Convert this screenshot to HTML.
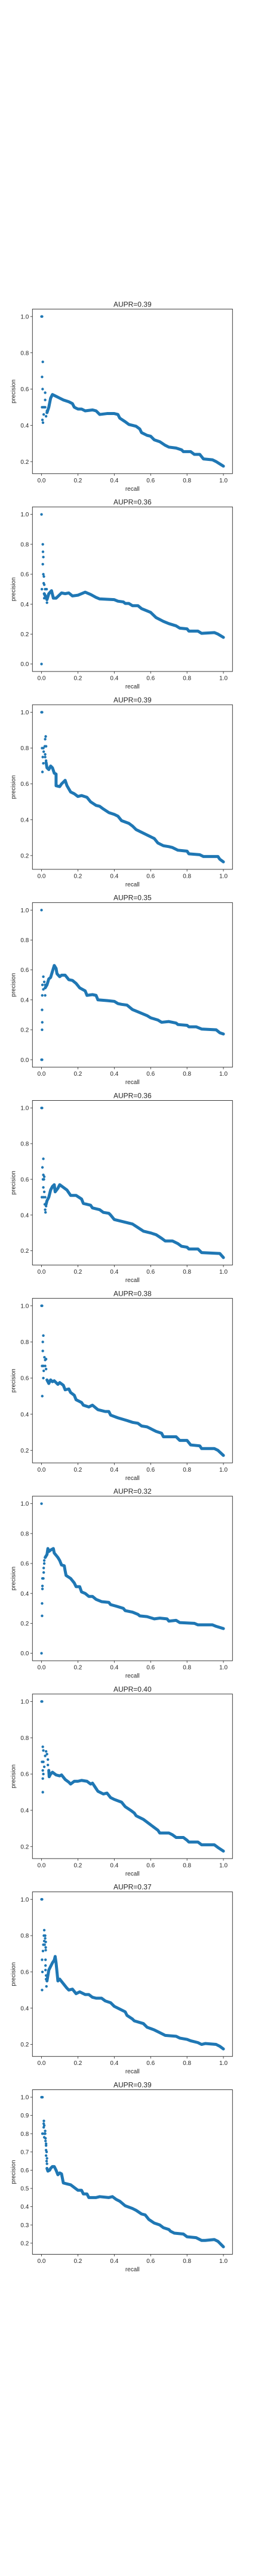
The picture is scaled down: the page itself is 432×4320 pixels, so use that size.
<!DOCTYPE html>
<html><head><meta charset="utf-8"><style>
html,body{margin:0;padding:0;background:#fff;width:432px;height:4320px;overflow:hidden}
svg{display:block}
text{font-family:"Liberation Sans","DejaVu Sans",sans-serif;fill:#262626}
</style></head><body>
<svg id="fig" width="432" height="4320" viewBox="0 0 432 4320"></svg>
<script>
const titles=["AUPR=0.39","AUPR=0.36","AUPR=0.39","AUPR=0.35","AUPR=0.36","AUPR=0.38","AUPR=0.32","AUPR=0.40","AUPR=0.37","AUPR=0.39"];
const xTicks=[0,0.2,0.4,0.6,0.8,1.0];
const yTickStep=[0.2,0.2,0.2,0.2,0.2,0.2,0.2,0.2,0.2,0.1];
const curveR=[
[0.03,0.04,0.05,0.06,0.08,0.1,0.12,0.15,0.17,0.18,0.2,0.22,0.24,0.28,0.3,0.32,0.36,0.4,0.42,0.43,0.46,0.48,0.52,0.54,0.55,0.58,0.6,0.62,0.65,0.68,0.7,0.74,0.77,0.78,0.82,0.84,0.87,0.89,0.94,0.96,1.0],
[0.015,0.03,0.04,0.055,0.065,0.08,0.11,0.13,0.15,0.17,0.2,0.24,0.27,0.3,0.32,0.4,0.42,0.45,0.46,0.48,0.5,0.53,0.55,0.6,0.63,0.67,0.7,0.74,0.76,0.8,0.81,0.86,0.88,0.95,0.97,1.0],
[0.025,0.03,0.04,0.05,0.06,0.07,0.08,0.08,0.1,0.11,0.13,0.14,0.16,0.18,0.2,0.22,0.25,0.27,0.3,0.32,0.34,0.37,0.4,0.42,0.44,0.48,0.5,0.52,0.55,0.6,0.62,0.64,0.67,0.7,0.72,0.75,0.8,0.81,0.87,0.89,0.97,0.98,1.0],
[0.02,0.03,0.04,0.05,0.06,0.07,0.08,0.085,0.1,0.11,0.13,0.15,0.17,0.19,0.21,0.24,0.25,0.28,0.3,0.31,0.36,0.4,0.42,0.44,0.47,0.5,0.53,0.58,0.6,0.64,0.66,0.7,0.74,0.75,0.8,0.81,0.85,0.88,0.96,0.98,1.0],
[0.025,0.03,0.04,0.05,0.06,0.07,0.075,0.09,0.1,0.12,0.14,0.16,0.19,0.22,0.23,0.27,0.28,0.32,0.34,0.37,0.38,0.4,0.44,0.46,0.5,0.53,0.56,0.6,0.63,0.66,0.68,0.72,0.75,0.77,0.8,0.81,0.86,0.88,0.98,1.0],
[0.03,0.04,0.05,0.06,0.07,0.09,0.1,0.12,0.13,0.15,0.16,0.18,0.19,0.22,0.23,0.26,0.28,0.31,0.35,0.37,0.38,0.42,0.47,0.5,0.53,0.55,0.58,0.6,0.63,0.66,0.67,0.7,0.74,0.76,0.8,0.82,0.87,0.88,0.95,0.97,1.0],
[0.02,0.03,0.035,0.04,0.05,0.065,0.07,0.09,0.1,0.11,0.125,0.13,0.135,0.16,0.18,0.19,0.21,0.22,0.24,0.26,0.28,0.3,0.33,0.37,0.38,0.41,0.45,0.46,0.5,0.53,0.54,0.58,0.62,0.65,0.69,0.7,0.74,0.76,0.84,0.86,0.94,0.96,1.0],
[0.04,0.042,0.05,0.06,0.08,0.1,0.11,0.13,0.15,0.16,0.18,0.2,0.22,0.25,0.27,0.28,0.3,0.31,0.34,0.36,0.38,0.4,0.44,0.46,0.49,0.51,0.52,0.56,0.6,0.62,0.64,0.65,0.7,0.72,0.74,0.78,0.8,0.81,0.86,0.88,0.95,0.97,1.0],
[0.03,0.035,0.04,0.05,0.06,0.07,0.075,0.08,0.085,0.09,0.1,0.12,0.14,0.15,0.17,0.19,0.21,0.24,0.26,0.28,0.3,0.33,0.35,0.38,0.4,0.43,0.46,0.47,0.5,0.51,0.56,0.58,0.62,0.65,0.68,0.74,0.76,0.8,0.82,0.86,0.88,0.9,0.96,0.98,1.0],
[0.03,0.035,0.045,0.05,0.06,0.07,0.08,0.09,0.1,0.11,0.12,0.14,0.16,0.18,0.2,0.22,0.23,0.25,0.26,0.3,0.32,0.37,0.39,0.41,0.43,0.46,0.5,0.52,0.55,0.57,0.59,0.62,0.65,0.67,0.7,0.71,0.73,0.78,0.8,0.85,0.88,0.9,0.95,0.97,1.0]
];
const curveP=[
[0.47,0.50,0.55,0.57,0.56,0.55,0.54,0.53,0.52,0.50,0.49,0.49,0.48,0.485,0.48,0.46,0.465,0.465,0.46,0.44,0.42,0.405,0.395,0.38,0.36,0.345,0.34,0.32,0.31,0.29,0.28,0.275,0.265,0.255,0.255,0.24,0.24,0.215,0.21,0.2,0.175],
[0.47,0.43,0.47,0.49,0.44,0.44,0.475,0.47,0.475,0.455,0.46,0.48,0.465,0.445,0.435,0.43,0.42,0.415,0.405,0.405,0.39,0.39,0.37,0.345,0.31,0.285,0.27,0.255,0.24,0.235,0.22,0.22,0.205,0.21,0.2,0.178],
[0.72,0.69,0.68,0.70,0.69,0.66,0.655,0.59,0.585,0.60,0.62,0.59,0.555,0.545,0.53,0.535,0.525,0.5,0.48,0.475,0.46,0.44,0.43,0.42,0.395,0.38,0.365,0.345,0.33,0.305,0.295,0.27,0.255,0.25,0.245,0.23,0.225,0.21,0.205,0.195,0.195,0.18,0.165],
[0.48,0.50,0.54,0.55,0.59,0.63,0.61,0.575,0.555,0.565,0.565,0.535,0.53,0.51,0.48,0.46,0.43,0.435,0.43,0.40,0.395,0.39,0.375,0.37,0.365,0.335,0.32,0.295,0.28,0.265,0.25,0.255,0.245,0.235,0.23,0.22,0.22,0.205,0.2,0.18,0.172],
[0.46,0.48,0.5,0.54,0.56,0.57,0.53,0.55,0.57,0.555,0.54,0.51,0.51,0.49,0.465,0.455,0.44,0.43,0.415,0.41,0.4,0.375,0.365,0.36,0.35,0.33,0.31,0.3,0.29,0.27,0.255,0.255,0.24,0.225,0.22,0.21,0.21,0.19,0.185,0.162],
[0.59,0.57,0.59,0.58,0.585,0.565,0.575,0.56,0.535,0.54,0.52,0.505,0.48,0.465,0.45,0.44,0.45,0.425,0.415,0.415,0.395,0.38,0.365,0.355,0.35,0.335,0.33,0.32,0.305,0.295,0.275,0.275,0.275,0.255,0.255,0.23,0.225,0.21,0.21,0.2,0.172],
[0.64,0.66,0.7,0.68,0.69,0.70,0.67,0.64,0.62,0.59,0.585,0.55,0.52,0.5,0.47,0.445,0.445,0.41,0.4,0.38,0.38,0.36,0.345,0.34,0.325,0.315,0.3,0.285,0.275,0.26,0.25,0.245,0.23,0.235,0.23,0.215,0.22,0.205,0.2,0.19,0.19,0.18,0.165],
[0.62,0.585,0.6,0.61,0.595,0.59,0.595,0.57,0.555,0.545,0.56,0.56,0.565,0.56,0.545,0.55,0.52,0.505,0.49,0.495,0.47,0.46,0.445,0.42,0.4,0.385,0.37,0.35,0.32,0.305,0.29,0.275,0.275,0.265,0.25,0.25,0.235,0.225,0.225,0.21,0.21,0.195,0.175],
[0.55,0.58,0.61,0.63,0.65,0.665,0.685,0.65,0.6,0.55,0.56,0.535,0.51,0.5,0.505,0.48,0.49,0.475,0.475,0.46,0.455,0.455,0.44,0.43,0.41,0.395,0.38,0.36,0.34,0.33,0.315,0.295,0.28,0.265,0.25,0.245,0.235,0.228,0.22,0.21,0.2,0.205,0.2,0.19,0.175],
[0.61,0.595,0.6,0.61,0.62,0.62,0.6,0.575,0.585,0.58,0.53,0.525,0.52,0.505,0.49,0.49,0.47,0.47,0.45,0.45,0.455,0.45,0.455,0.44,0.43,0.405,0.39,0.38,0.36,0.355,0.33,0.31,0.3,0.285,0.275,0.265,0.255,0.25,0.235,0.23,0.215,0.215,0.22,0.21,0.18]
];
const dotR=[
[0,0.003,0.007,0.003,0.006,0.003,0.01,0.02,0.005,0.008,0.012,0.02,0.02,0.025,0.03,0.015],
[0,0.007,0.008,0.01,0.007,0.01,0.013,0.012,0.015,0.002,0.02,0.028,0,0.015,0.03,0.02],
[0,0.003,0.005,0.003,0.01,0.007,0.01,0.012,0.02,0.018,0.02,0.023,0.025,0.02,0.025],
[0,0.003,0,0.003,0.004,0.003,0.004,0.005,0.01,0.01,0.015,0.02,0.02],
[0,0.003,0.01,0.005,0.01,0.015,0.008,0.013,0.01,0.015,0.002,0.01,0.02,0.018,0.02,0.022,0.025],
[0,0.003,0.01,0.007,0.007,0.016,0.003,0.01,0.02,0.012,0.02,0.025,0.01,0.004,0.025],
[0,0,0.003,0.003,0.005,0.005,0.005,0.01,0.012,0.012,0.015,0.015],
[0,0.003,0.007,0.01,0.003,0.01,0.015,0.007,0.01,0.007,0.007,0.02,0.025,0.03,0.035,0.035],
[0,0.003,0.015,0.013,0.02,0.02,0.015,0.023,0.01,0.017,0.023,0.023,0.008,0.003,0.022,0.022,0.022,0.005,0.025,0.025,0.003,0.027],
[0,0.005,0.013,0.012,0.015,0.012,0.005,0.015,0.02,0.02,0.015,0.022,0.022,0.025,0.025,0.025,0.028,0.025,0.03,0.028,0.03]
];
const dotP=[
[1.0,1.0,0.75,0.667,0.6,0.5,0.5,0.5,0.43,0.415,0.46,0.58,0.54,0.45,0.48,0.5],
[1.0,0.8,0.75,0.715,0.667,0.6,0.585,0.54,0.53,0.5,0.5,0.5,0.0,0.44,0.41,0.46],
[1.0,1.0,0.667,0.8,0.8,0.75,0.715,0.78,0.75,0.81,0.85,0.865,0.81,0.765,0.73],
[1.0,0.0,0.0,0.333,0.25,0.2,0.43,0.5,0.555,0.47,0.52,0.43,0.5],
[1.0,1.0,0.715,0.667,0.625,0.615,0.6,0.6,0.555,0.53,0.5,0.5,0.5,0.46,0.43,0.415,0.45],
[1.0,1.0,0.835,0.8,0.75,0.715,0.667,0.667,0.667,0.64,0.7,0.705,0.6,0.5,0.65],
[1.0,0.0,0.333,0.25,0.43,0.45,0.5,0.5,0.54,0.57,0.6,0.62],
[1.0,1.0,0.75,0.73,0.667,0.667,0.64,0.62,0.6,0.575,0.5,0.7,0.725,0.71,0.68,0.65],
[1.0,1.0,0.83,0.8,0.8,0.785,0.77,0.765,0.75,0.75,0.735,0.72,0.715,0.667,0.667,0.635,0.61,0.6,0.58,0.56,0.5,0.52],
[1.0,1.0,0.87,0.855,0.845,0.835,0.8,0.8,0.815,0.8,0.78,0.775,0.76,0.745,0.735,0.71,0.7,0.68,0.665,0.65,0.635]
];
const NS="http://www.w3.org/2000/svg";
const fig=document.getElementById('fig');
const AX_L=54.3, AX_W=335, AX_H=276, TOP0=518.3, PITCH=331.8, BLUE="#1f77b4";
function mk(tag,attrs,parent){const e=document.createElementNS(NS,tag);for(const k in attrs)e.setAttribute(k,attrs[k]);(parent||fig).appendChild(e);return e;}
for(let i=0;i<10;i++){
  const top=TOP0+i*PITCH;
  const g=mk('g',{});
  
  
  const all=curveP[i].concat(dotP[i]);
  const ymin=Math.min(...all), ymax=Math.max(...all), rng=ymax-ymin;
  const y0=ymin-0.05*rng, y1=ymax+0.05*rng;
  const sx=v=>AX_L+(v+0.05)/1.1*AX_W;
  const sy=v=>top+AX_H-(v-y0)/(y1-y0)*AX_H;
  // curve
  let d="";
  for(let j=0;j<curveR[i].length;j++){d+=(j?"L":"M")+sx(curveR[i][j]).toFixed(2)+","+sy(curveP[i][j]).toFixed(2);}
  const path=mk('path',{d:d,fill:"none",stroke:BLUE,"stroke-width":5,"stroke-linejoin":"round","stroke-linecap":"round"},g);
  
  
  for(let j=0;j<dotR[i].length;j++){
    const c=mk('circle',{cx:sx(dotR[i][j]),cy:sy(dotP[i][j]),r:2.2,fill:BLUE},g);
    
    
  }
  // frame
  const fr=mk('rect',{x:AX_L,y:top,width:AX_W,height:AX_H,fill:"none",stroke:"#262626","stroke-width":0.9},g);
  
  
  // x ticks
  xTicks.forEach(t=>{
    const x=sx(t);
    mk('line',{x1:x,x2:x,y1:top+AX_H,y2:top+AX_H+3.5,stroke:"#262626","stroke-width":0.8},g);
    const tx=mk('text',{x:x,y:top+AX_H+14.5,"font-size":10,"text-anchor":"middle"},g);
    tx.textContent=t.toFixed(1);
    
    
  });
  // y ticks
  const st=yTickStep[i];
  for(let k=Math.ceil(y0/st-1e-6);k*st<=y1+1e-9;k++){
    const t=k*st, y=sy(t);
    mk('line',{x1:AX_L-3.5,x2:AX_L,y1:y,y2:y,stroke:"#262626","stroke-width":0.8},g);
    const ty=mk('text',{x:AX_L-6,y:y+3.6,"font-size":10,"text-anchor":"end"},g);
    ty.textContent=t.toFixed(1);
    
    
  }
  const tl=mk('text',{x:AX_L+AX_W/2,y:top-4,"font-size":12,"text-anchor":"middle"},g);
  tl.textContent=titles[i];
  
  
  const xl=mk('text',{x:AX_L+AX_W/2,y:top+AX_H+28.5,"font-size":10,"text-anchor":"middle"},g);
  xl.textContent="recall";
  
  
  const yx=25.3, yy=top+AX_H/2;
  const yl=mk('text',{x:yx,y:yy,"font-size":10,"text-anchor":"middle",transform:"rotate(-90 "+yx+" "+yy+")"},g);
  yl.textContent="precision";
  
  
}
</script>
</body></html>
